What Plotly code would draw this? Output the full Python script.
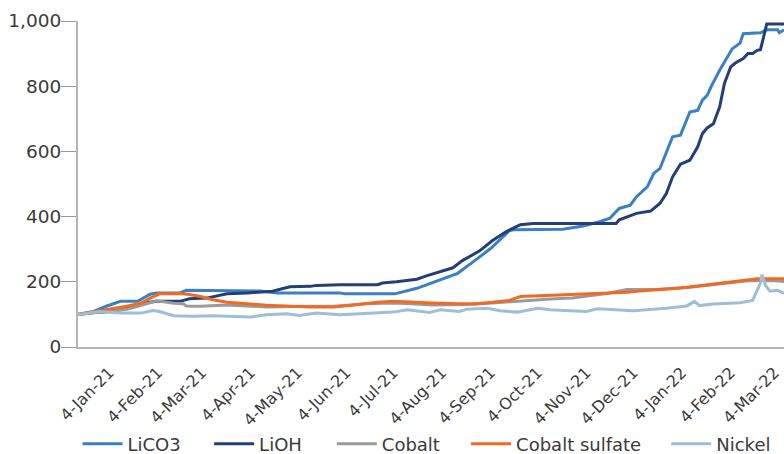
import plotly.graph_objects as go

# ---- data (index, start = 100) ----
lico3_dates = ["2020-12-31","2021-01-10","2021-01-18","2021-01-27","2021-02-07","2021-02-15","2021-02-19",
    "2021-03-06","2021-03-10","2021-03-27","2021-04-05","2021-04-26","2021-05-07","2021-05-28","2021-06-16",
    "2021-06-19","2021-07-21","2021-08-04","2021-08-19","2021-08-30","2021-09-09","2021-09-20","2021-10-02",
    "2021-10-06","2021-11-05","2021-11-18","2021-11-29","2021-12-05","2021-12-11","2021-12-18","2021-12-22",
    "2021-12-29","2022-01-02","2022-01-06","2022-01-08","2022-01-14","2022-01-19","2022-01-25","2022-01-30",
    "2022-02-02","2022-02-05","2022-02-08","2022-02-13","2022-02-18","2022-02-21","2022-02-26","2022-02-28",
    "2022-03-11","2022-03-15","2022-03-22","2022-03-23","2022-03-26"]
lico3_vals = [100,109,125,140,140,162,166,166,174,174,172,172,166,166,166,163,163,180,206,226,262,302,357,
    360,361,371,385,395,425,435,461,492,533,548,573,645,650,721,726,757,772,803,849,889,915,932,961,
    964,973,973,964,973]

lioh_dates = ["2020-12-31","2021-01-10","2021-01-22","2021-01-31","2021-02-10","2021-02-19","2021-03-06",
    "2021-03-12","2021-03-23","2021-04-05","2021-04-18","2021-05-04","2021-05-15","2021-05-28","2021-06-01",
    "2021-06-16","2021-07-10","2021-07-13","2021-07-22","2021-08-04","2021-08-10","2021-08-19","2021-08-27",
    "2021-09-02","2021-09-13","2021-09-21","2021-09-30","2021-10-09","2021-10-17","2021-12-09","2021-12-11",
    "2021-12-22","2021-12-31","2022-01-06","2022-01-10","2022-01-14","2022-01-19","2022-01-25","2022-01-30",
    "2022-02-02","2022-02-05","2022-02-09","2022-02-13","2022-02-16","2022-02-20","2022-02-23","2022-02-28",
    "2022-03-03","2022-03-06","2022-03-09","2022-03-11","2022-03-13","2022-03-15","2022-03-26"]
lioh_vals = [100,106,109,119,134,140,140,148,150,163,166,171,185,186,189,191,191,196,200,208,218,231,243,
    265,295,326,354,375,379,379,390,410,417,441,471,522,561,573,614,655,672,685,737,808,859,871,885,
    900,900,910,912,951,991,991]

cobalt_dates = ["2020-12-31","2021-01-20","2021-01-31","2021-02-10","2021-02-19","2021-03-02","2021-03-08",
    "2021-03-10","2021-03-19","2021-04-05","2021-04-18","2021-04-30","2021-05-28","2021-06-12","2021-07-03",
    "2021-07-20","2021-07-31","2021-08-14","2021-09-09","2021-09-26","2021-10-07","2021-10-28","2021-11-11",
    "2021-12-03","2021-12-16","2022-01-04","2022-01-25","2022-02-18","2022-03-03","2022-03-19","2022-03-26"]
cobalt_vals = [100,109,116,129,142,134,133,126,125,129,125,123,125,125,133,135,133,129,131,137,140,147,150,
    164,176,176,183,196,203,204,201]

cosulf_dates = ["2020-12-31","2021-01-20","2021-01-31","2021-02-09","2021-02-15","2021-02-21","2021-03-06",
    "2021-03-12","2021-03-19","2021-03-27","2021-04-05","2021-04-18","2021-04-30","2021-05-28","2021-06-12",
    "2021-06-22","2021-07-10","2021-07-20","2021-07-29","2021-08-14","2021-08-30","2021-09-11","2021-09-21",
    "2021-10-02","2021-10-09","2021-10-28","2021-11-11","2021-12-16","2021-12-24","2022-01-19","2022-01-31",
    "2022-02-18","2022-03-09","2022-03-26"]
cosulf_vals = [100,115,125,134,150,163,164,161,155,145,137,133,128,123,123,127,137,140,139,135,133,133,137,
    143,155,159,161,168,172,181,188,198,209,209]

nickel_dates = ["2020-12-31","2021-01-14","2021-01-27","2021-02-09","2021-02-17","2021-02-21","2021-03-02",
    "2021-03-14","2021-03-27","2021-04-09","2021-04-20","2021-04-30","2021-05-13","2021-05-21","2021-06-01",
    "2021-06-16","2021-07-03","2021-07-20","2021-07-29","2021-08-12","2021-08-19","2021-08-31","2021-09-05",
    "2021-09-18","2021-09-26","2021-10-07","2021-10-20","2021-10-28","2021-11-03","2021-11-20","2021-11-27",
    "2021-12-20","2022-01-10","2022-01-23","2022-01-28","2022-01-31","2022-02-09","2022-02-26","2022-03-06",
    "2022-03-11","2022-03-12","2022-03-14","2022-03-17","2022-03-22","2022-03-26"]
nickel_vals = [100,109,104,104,112,109,96,94,96,94,92,99,102,97,104,99,104,107,114,106,114,109,116,119,
    111,107,119,114,113,109,117,111,119,126,140,127,132,136,143,196,222,191,171,174,164]

tick_dates = ["2021-01-04","2021-02-04","2021-03-04","2021-04-04","2021-05-04","2021-06-04","2021-07-04",
    "2021-08-04","2021-09-04","2021-10-04","2021-11-04","2021-12-04","2022-01-04","2022-02-04","2022-03-04"]
tick_text = ["4-Jan-21","4-Feb-21","4-Mar-21","4-Apr-21","4-May-21","4-Jun-21","4-Jul-21","4-Aug-21",
    "4-Sep-21","4-Oct-21","4-Nov-21","4-Dec-21","4-Jan-22","4-Feb-22","4-Mar-22"]

series = [
    ("LiCO3", lico3_dates, lico3_vals, "#3b7fc4"),
    ("LiOH", lioh_dates, lioh_vals, "#233f78"),
    ("Cobalt", cobalt_dates, cobalt_vals, "#9a9a9a"),
    ("Cobalt sulfate", cosulf_dates, cosulf_vals, "#f26a21"),
    ("Nickel", nickel_dates, nickel_vals, "#9fbdd6"),
]
# legend left edges (paper fraction of plot width)
legend_x = [-0.0007, 0.1857, 0.3595, 0.5497, 0.8332]

FONT = "DejaVu Sans"
TXT = "#3a3a3a"
fig = go.Figure()
for i, (name, d, v, c) in enumerate(series):
    lg = "legend" if i == 0 else f"legend{i+1}"
    fig.add_trace(go.Scatter(x=d, y=v, name=name, mode="lines",
                             line=dict(color=c, width=3), legend=lg))

layout_legends = {}
for i, xx in enumerate(legend_x):
    key = "legend" if i == 0 else f"legend{i+1}"
    layout_legends[key] = dict(x=xx, xanchor="left", y=-0.298, yanchor="middle",
                               orientation="h", font=dict(family=FONT, size=18, color=TXT),
                               itemwidth=40, bgcolor="rgba(0,0,0,0)", borderwidth=0,
                               tracegroupgap=0, itemclick=False)

fig.update_layout(
    width=784, height=454,
    margin=dict(l=78, r=0, t=21, b=107, autoexpand=False),
    paper_bgcolor="white", plot_bgcolor="white",
    showlegend=True,
    **layout_legends,
    xaxis=dict(type="date", range=["2020-12-31", "2022-03-26"],
               tickvals=tick_dates, ticktext=tick_text, tickangle=-45,
               tickfont=dict(family=FONT, size=16, color=TXT),
               ticks="", showgrid=False, zeroline=False, automargin=False,
               showline=True, linecolor="#b5b5b5", linewidth=2,
               ticklabelshift=25, ticklabelstandoff=8),
    yaxis=dict(range=[0, 1000], tickvals=[0, 200, 400, 600, 800, 1000],
               tickformat=",", tickfont=dict(family=FONT, size=18.5, color=TXT),
               ticks="outside", ticklen=15, tickcolor="#999999", tickwidth=1,
               showgrid=False, zeroline=False, automargin=False,
               showline=True, linecolor="#b5b5b5", linewidth=2,
               ticklabelstandoff=-4),
)

fig.write_html("out.html", config={"displayModeBar": False},
               post_script="document.body.style.margin='0';")
